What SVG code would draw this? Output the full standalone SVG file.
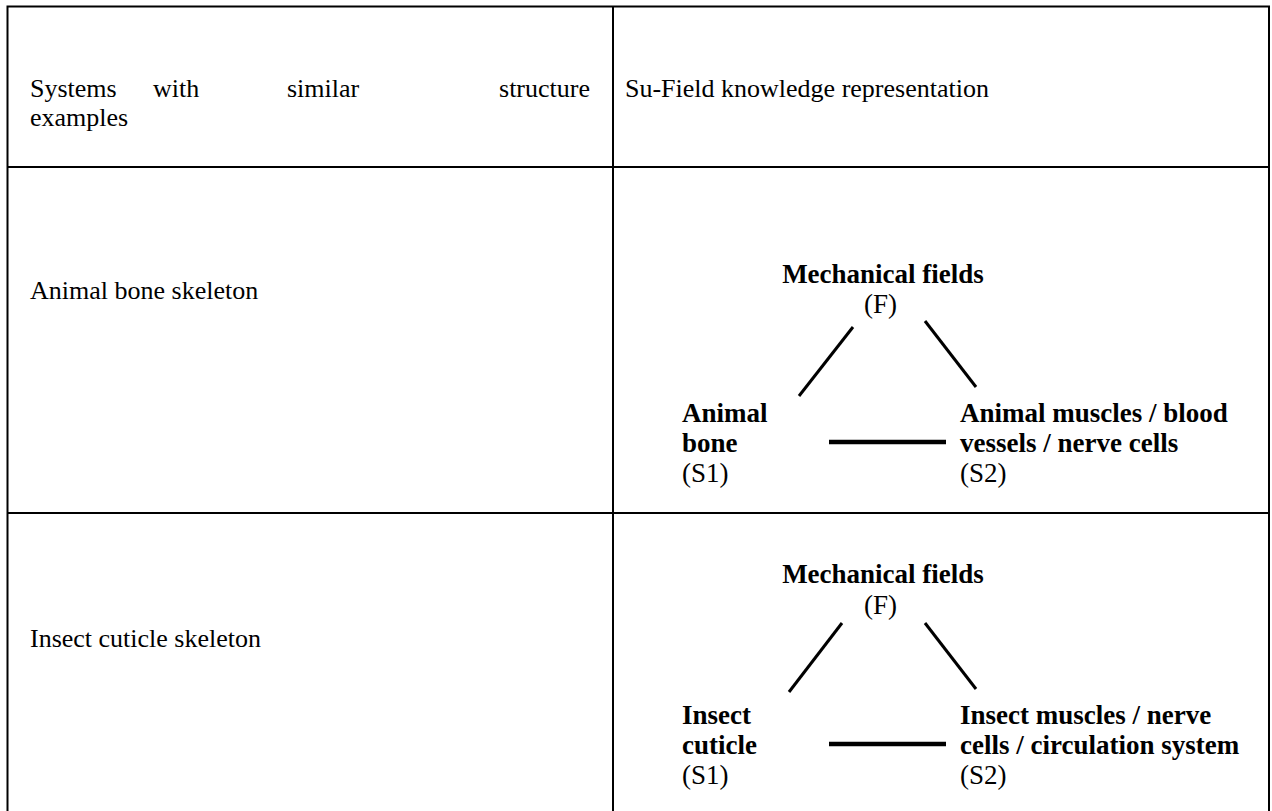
<svg xmlns="http://www.w3.org/2000/svg" width="1272" height="811" viewBox="0 0 1272 811">
<style>
.grid{stroke:#000;stroke-width:2;fill:none}
.t{font-family:"Liberation Serif","Times New Roman",serif;font-size:26px;fill:#000}
.b{font-family:"Liberation Serif","Times New Roman",serif;font-size:27px;font-weight:bold;fill:#000}
.r{font-family:"Liberation Serif","Times New Roman",serif;font-size:27px;fill:#000}
.diag{stroke:#000;stroke-width:3;fill:none}
.hl{stroke:#000;stroke-width:4.5;fill:none}
</style>
<rect width="1272" height="811" fill="#fff"/>
<g id="table">
<path class="grid" d="M7.5,811 V6.5 H1269 V811 M613,6.5 V811 M7.5,167 H1269 M7.5,513 H1269"/>
</g>
<g id="header">
<text class="t" x="30" y="97">Systems</text>
<text class="t" x="153" y="97">with</text>
<text class="t" x="287" y="97">similar</text>
<text class="t" x="590" y="97" text-anchor="end">structure</text>
<text class="t" x="30" y="126">examples</text>
<text class="t" x="625" y="97">Su-Field knowledge representation</text>
</g>
<g id="row-labels">
<text class="t" x="30" y="299">Animal bone skeleton</text>
<text class="t" x="30" y="647">Insect cuticle skeleton</text>
</g>
<g id="node-F1"><text class="b" x="883" y="283" text-anchor="middle">Mechanical fields</text><text class="r" x="880.5" y="313" text-anchor="middle">(F)</text></g>
<g id="node-S1a"><text class="b" x="682" y="422">Animal</text><text class="b" x="682" y="452">bone</text><text class="r" x="682" y="482">(S1)</text></g>
<g id="node-S2a"><text class="b" x="960" y="422">Animal muscles / blood</text><text class="b" x="960" y="452">vessels / nerve cells</text><text class="r" x="960" y="482">(S2)</text></g>
<g id="node-F2"><text class="b" x="883" y="583" text-anchor="middle">Mechanical fields</text><text class="r" x="880.5" y="614" text-anchor="middle">(F)</text></g>
<g id="node-S1b"><text class="b" x="682" y="724">Insect</text><text class="b" x="682" y="754">cuticle</text><text class="r" x="682" y="784">(S1)</text></g>
<g id="node-S2b"><text class="b" x="960" y="724">Insect muscles / nerve</text><text class="b" x="960" y="754">cells / circulation system</text><text class="r" x="960" y="784">(S2)</text></g>
<g id="connectors">
<line class="diag" x1="853" y1="327" x2="799" y2="396"/>
<line class="diag" x1="925" y1="321" x2="976" y2="387"/>
<line class="hl" x1="829" y1="442" x2="946" y2="442"/>
<line class="diag" x1="842" y1="623" x2="789" y2="692"/>
<line class="diag" x1="925" y1="623" x2="976" y2="689"/>
<line class="hl" x1="829" y1="744" x2="946" y2="744"/>
</g>
</svg>
